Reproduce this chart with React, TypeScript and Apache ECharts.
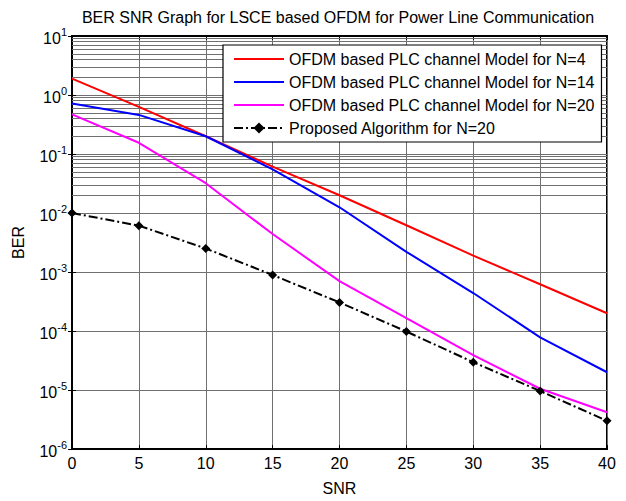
import React, { useEffect, useRef } from "react";
import * as echarts from "echarts";

const snr = [0, 5, 10, 15, 20, 25, 30, 35, 40];
const berN4 = [1.9, 0.63, 0.2, 0.061, 0.02, 0.0062, 0.0019, 0.00062, 0.0002];
const berN14 = [0.72, 0.46, 0.2, 0.055, 0.0125, 0.0022, 0.00044, 0.000078, 0.00002];
const berN20 = [0.47, 0.155, 0.032, 0.0044, 0.0007, 0.000165, 0.000039, 0.0000105, 0.0000042];
const berProposed = [0.01, 0.0061, 0.0025, 0.00089, 0.000305, 0.000098, 0.0000296, 0.0000096, 0.000003];

const seriesNames = [
  "OFDM based PLC channel Model for N=4",
  "OFDM based PLC channel Model for N=14",
  "OFDM based PLC channel Model for N=20",
  "Proposed Algorithm for N=20",
];
const titleText = "BER SNR Graph for LSCE based OFDM for Power Line Communication";
const xName = "SNR";
const yName = "BER";
const decades = [-6, -5, -4, -3, -2, -1, 0];
const minorMultipliers = [2, 3, 4, 5, 6, 7, 8, 9];

const FONT = "'Liberation Sans', Arial, sans-serif";
const CLEAR = "rgba(0,0,0,0)";

export default function App() {
  const ref = useRef<HTMLDivElement>(null);
  useEffect(() => {
    document.body.style.margin = "0";
    if (!ref.current) return;
    const chart = echarts.init(ref.current, undefined, { renderer: "svg" });
    const minorLines: any[] = [];
    decades.forEach((d) =>
      minorMultipliers.forEach((k) => minorLines.push({ yAxis: Number((k * Math.pow(10, d)).toPrecision(3)) }))
    );
    const pair = (ys: number[]) => snr.map((x, i) => [x, ys[i]]);
    const gridColor = "#707070";
    chart.setOption({
      animation: false,
      backgroundColor: "#fff",
      textStyle: { fontFamily: FONT },
      title: {
        text: titleText,
        left: 338,
        top: 9,
        padding: 0,
        textAlign: "center",
        textStyle: { fontSize: 16, fontWeight: "normal", color: "#000", fontFamily: FONT },
      },
      grid: {
        left: 72,
        right: 19,
        top: 36,
        bottom: 43,
        show: true,
        borderColor: "#000",
        borderWidth: 2,
        backgroundColor: "#fff",
      },
      legend: {
        data: seriesNames,
        orient: "vertical",
        left: 223,
        top: 45,
        z: 20,
        padding: [6, 7, 6, 10],
        itemGap: 7,
        itemWidth: 50,
        itemHeight: 14,
        backgroundColor: "#fff",
        borderColor: "#000",
        borderWidth: 1.2,
        borderRadius: 0,
        textStyle: { fontSize: 16, color: "#000", fontFamily: FONT, lineHeight: 16 },
      },
      xAxis: [
        {
          type: "value",
          min: 0,
          max: 40,
          interval: 5,
          name: xName,
          nameLocation: "middle",
          nameGap: 31,
          nameTextStyle: { fontSize: 16, color: "#000", fontFamily: FONT },
          axisLine: { show: true, lineStyle: { color: "#000", width: 2 } },
          axisTick: { show: true, inside: true, length: 4, lineStyle: { color: "#000" } },
          axisLabel: { fontSize: 16, color: "#000", margin: 6, fontFamily: FONT },
          splitLine: { show: true, lineStyle: { color: gridColor, width: 1 } },
        },
        {
          type: "value",
          position: "top",
          min: 0,
          max: 40,
          interval: 5,
          axisLine: { show: true, lineStyle: { color: "#000", width: 2 } },
          axisTick: { show: true, inside: true, length: 4, lineStyle: { color: "#000" } },
          axisLabel: { show: false },
          splitLine: { show: false },
        },
      ],
      yAxis: [
        {
          type: "log",
          logBase: 10,
          min: 1e-6,
          max: 10,
          name: yName,
          nameLocation: "middle",
          nameGap: 46,
          nameRotate: 90,
          nameTextStyle: { fontSize: 16, color: "#000", fontFamily: FONT },
          axisLine: { show: true, lineStyle: { color: "#000", width: 2 } },
          axisTick: { show: true, inside: true, length: 4, lineStyle: { color: "#000" } },
          axisLabel: {
            margin: 5,
            color: "#000",
            formatter: (v: number) => `{b|10}{s|${Math.round(Math.log10(v))}}`,
            rich: {
              b: { fontSize: 16, fontFamily: FONT, color: "#000", verticalAlign: "bottom" },
              s: { fontSize: 11, fontFamily: FONT, color: "#000", verticalAlign: "bottom", padding: [0, 0, 9, 0] },
            },
          },
          splitLine: { show: true, lineStyle: { color: gridColor, width: 1 } },
        },
        {
          type: "log",
          logBase: 10,
          min: 1e-6,
          max: 10,
          position: "right",
          axisLine: { show: true, lineStyle: { color: "#000", width: 2 } },
          axisTick: { show: true, inside: true, length: 4, lineStyle: { color: "#000" } },
          axisLabel: { show: false },
          splitLine: { show: false },
        },
      ],
      series: [
        {
          name: "minor-grid",
          type: "line",
          data: [],
          z: 1,
          silent: true,
          markLine: {
            silent: true,
            z: 1,
            symbol: ["none", "none"],
            label: { show: false },
            lineStyle: { color: gridColor, width: 1, type: "solid" },
            emphasis: { disabled: true },
            data: minorLines,
          },
        },
        {
          name: seriesNames[0],
          type: "line",
          data: pair(berN4),
          symbol: "circle",
          showSymbol: false,
          z: 3,
          lineStyle: { color: "#ff0000", width: 2 },
          itemStyle: { color: CLEAR, borderColor: CLEAR },
        },
        {
          name: seriesNames[1],
          type: "line",
          data: pair(berN14),
          symbol: "circle",
          showSymbol: false,
          z: 3,
          lineStyle: { color: "#0000ff", width: 2 },
          itemStyle: { color: CLEAR, borderColor: CLEAR },
        },
        {
          name: seriesNames[2],
          type: "line",
          data: pair(berN20),
          symbol: "circle",
          showSymbol: false,
          z: 3,
          lineStyle: { color: "#ff00ff", width: 2 },
          itemStyle: { color: CLEAR, borderColor: CLEAR },
        },
        {
          name: seriesNames[3],
          type: "line",
          data: pair(berProposed),
          symbol: "diamond",
          symbolSize: 9,
          z: 4,
          lineStyle: { color: "#000", width: 2, type: [9, 3, 2, 3] },
          itemStyle: { color: "#000" },
        },
      ],
    });
    return () => chart.dispose();
  }, []);
  return <div ref={ref} style={{ width: 626, height: 501, position: "absolute", left: 0, top: 0 }} />;
}
